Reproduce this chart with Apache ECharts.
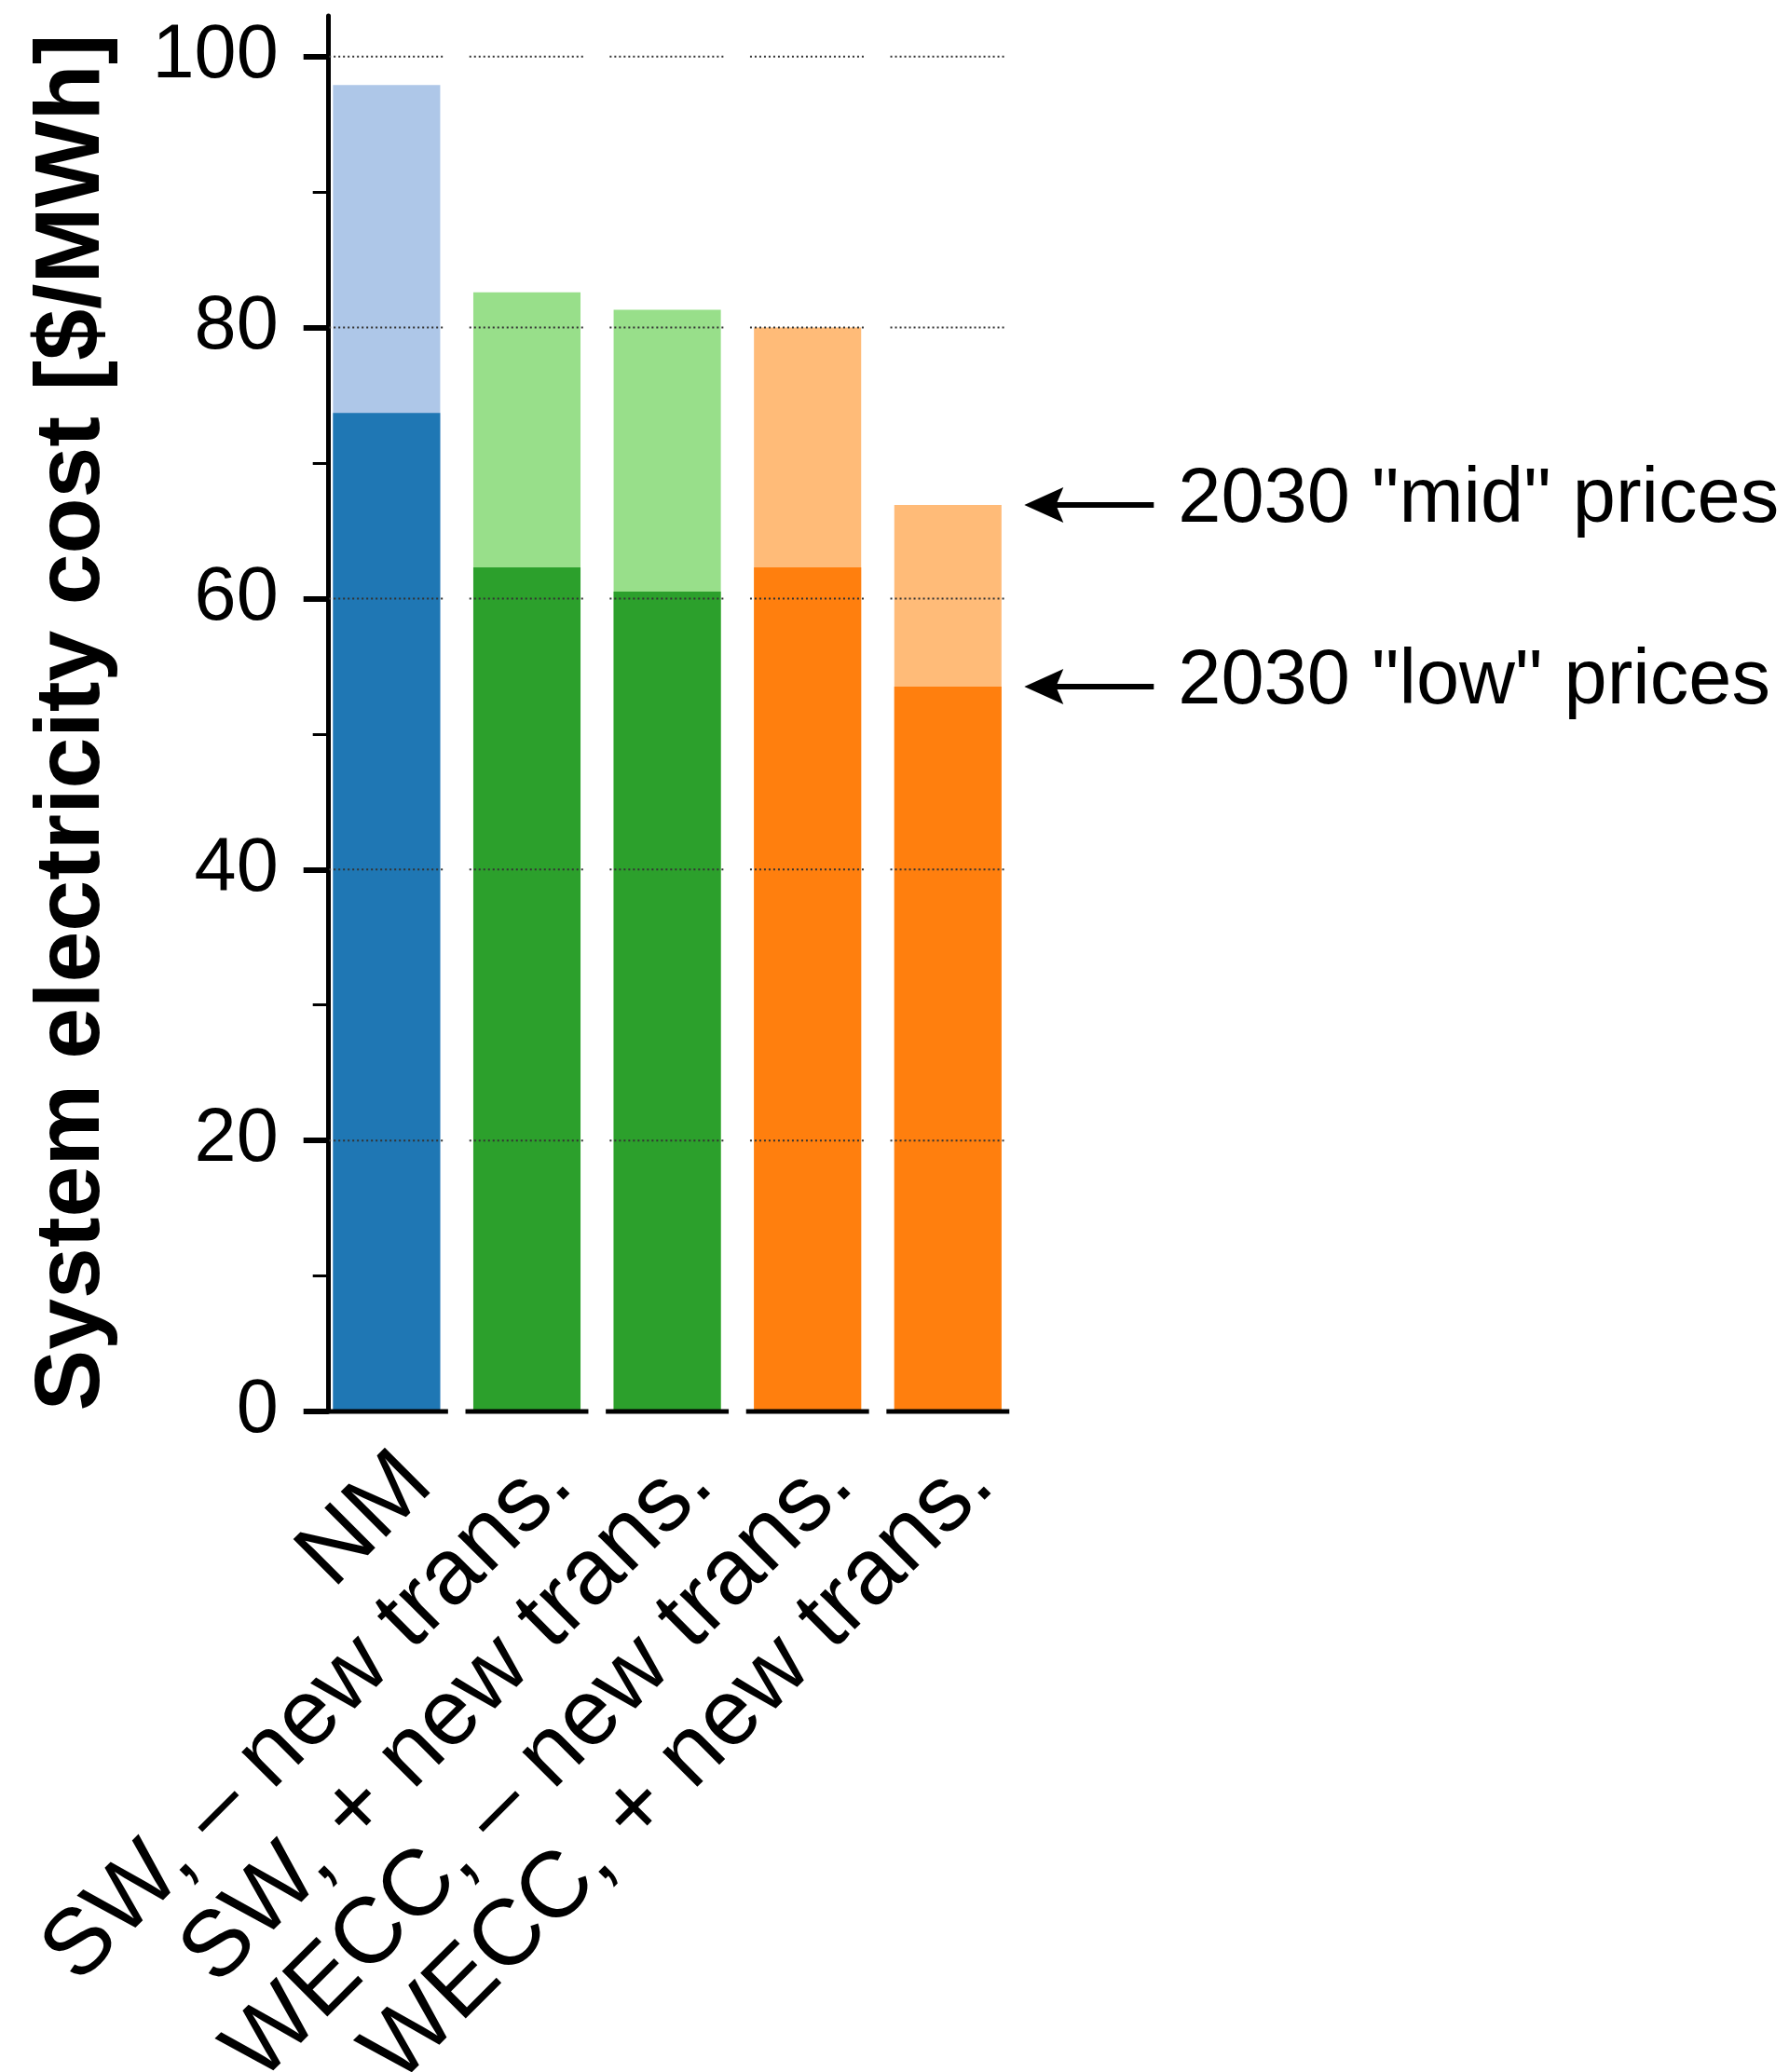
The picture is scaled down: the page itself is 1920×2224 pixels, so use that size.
<!DOCTYPE html>
<html><head><meta charset="utf-8">
<script src="https://cdn.jsdelivr.net/npm/echarts@6/dist/echarts.min.js"></script>
<style>html,body{margin:0;padding:0;background:#fff}#chart{width:1920px;height:2224px}</style>
</head><body><div id="chart"></div>
<script>
// ---- data ----
const categories = ['NM', 'SW, \u2013 new trans.', 'SW, + new trans.', 'WECC, \u2013 new trans.', 'WECC, + new trans.'];
const lowPrices = [73.7, 62.3, 60.5, 62.3, 53.5];   // 2030 "low" prices
const midPrices = [97.9, 82.6, 81.3, 80.0, 66.9];   // 2030 "mid" prices
const yTicks = [0, 20, 40, 60, 80, 100];
const yMinorTicks = [10, 30, 50, 70, 90];
const gridLevels = [20, 40, 60, 80, 100];
const annotations = ['2030 "mid" prices', '2030 "low" prices'];
const annotatedIndex = 4;
const yTitle = 'System electricity cost [$/MWh]';

// ---- styles ----
const lightColors = ['#aec7e8', '#98df8a', '#98df8a', '#ffbb78', '#ffbb78'];
const darkColors = ['#1f77b4', '#2ca02c', '#2ca02c', '#ff7f0e', '#ff7f0e'];
const FONT = '"Liberation Sans", Arial, Helvetica, sans-serif';

const gridData = [];
categories.forEach((c, i) => gridLevels.forEach(v => gridData.push([i, v])));
const baseData = categories.map((c, i) => [i, 0]);
const annotData = [
  [annotatedIndex, midPrices[annotatedIndex]],
  [annotatedIndex, lowPrices[annotatedIndex]]
];

const chart = echarts.init(document.getElementById('chart'), null, {renderer: 'canvas'});
const G = {left: 339.6, top: 17, width: 753, height: 1498};
const option = {
  backgroundColor: '#ffffff',
  animation: false,
  textStyle: {fontFamily: FONT},
  grid: [
    {left: G.left, top: G.top, width: G.width, height: G.height, outerBoundsMode: 'none', containLabel: false},
    {left: G.left + 33, top: G.top, width: G.width, height: G.height, outerBoundsMode: 'none', containLabel: false}
  ],
  xAxis: [
    {type: 'category', gridIndex: 0, data: categories, axisLine: {show: false}, axisTick: {show: false}, axisLabel: {show: false}, splitLine: {show: false}},
    {type: 'category', gridIndex: 1, data: categories, axisLine: {show: false}, axisTick: {show: false}, splitLine: {show: false},
      axisLabel: {show: true, interval: 0, rotate: 45, margin: 62, fontSize: 100, color: '#000', fontFamily: FONT}}
  ],
  yAxis: [
    {type: 'value', gridIndex: 0, position: 'left', min: 0, max: 103, interval: 20, offset: -13.1,
      name: yTitle, nameLocation: 'middle', nameGap: 224,
      nameTextStyle: {fontSize: 98.5, fontWeight: 'bold', color: '#000', fontFamily: FONT, padding: [0, 19, 0, 0]},
      axisLine: {show: true, lineStyle: {color: '#000', width: 5}},
      axisTick: {show: true, length: 27, lineStyle: {color: '#000', width: 6}, customValues: yTicks},
      axisLabel: {show: true, fontSize: 81, margin: 54, color: '#000', fontFamily: FONT, customValues: yTicks},
      splitLine: {show: false}},
    {type: 'value', gridIndex: 0, position: 'left', min: 0, max: 103, interval: 10, offset: -13.1,
      axisLine: {show: false},
      axisTick: {show: true, length: 17, lineStyle: {color: '#000', width: 3}, customValues: yMinorTicks},
      axisLabel: {show: false}, splitLine: {show: false}},
    {type: 'value', gridIndex: 1, show: false, min: 0, max: 103}
  ],
  series: [
    {name: '2030 "mid" prices', type: 'bar', xAxisIndex: 0, yAxisIndex: 0, barWidth: '76.4%', barGap: '-100%', z: 2,
      data: midPrices.map((v, i) => ({value: v, itemStyle: {color: lightColors[i]}}))},
    {name: '2030 "low" prices', type: 'bar', xAxisIndex: 0, yAxisIndex: 0, barWidth: '76.4%', barGap: '-100%', z: 3,
      data: lowPrices.map((v, i) => ({value: v, itemStyle: {color: darkColors[i]}}))},
    {type: 'custom', xAxisIndex: 0, yAxisIndex: 0, z: 5, silent: true, data: gridData,
      renderItem(params, api) {
        const p = api.coord([api.value(0), api.value(1)]);
        const half = api.size([1, 0])[0] * 0.41;
        return {type: 'line', shape: {x1: p[0] - half, y1: p[1], x2: p[0] + half, y2: p[1]},
          style: {stroke: '#333', lineWidth: 2, lineDash: [2, 3]}};
      }},
    {type: 'custom', xAxisIndex: 0, yAxisIndex: 0, z: 6, silent: true, data: baseData,
      renderItem(params, api) {
        const p = api.coord([api.value(0), api.value(1)]);
        const half = api.size([1, 0])[0] * 0.438;
        return {type: 'line', shape: {x1: p[0] - half, y1: p[1], x2: p[0] + half, y2: p[1]},
          style: {stroke: '#000', lineWidth: 5}};
      }},
    {type: 'custom', xAxisIndex: 0, yAxisIndex: 0, z: 7, silent: true, clip: false, data: annotData,
      renderItem(params, api) {
        const p = api.coord([api.value(0), api.value(1)]);
        const tip = p[0] + 82, y = p[1];
        return {type: 'group', children: [
          {type: 'line', shape: {x1: tip + 30, y1: y, x2: tip + 139, y2: y}, style: {stroke: '#000', lineWidth: 6}},
          {type: 'polygon', shape: {points: [[tip, y], [tip + 42, y - 19], [tip + 34, y], [tip + 42, y + 19]]}, style: {fill: '#000'}},
          {type: 'text', style: {text: annotations[params.dataIndex], x: tip + 165, y: y - 5,
            fontSize: 83, fontFamily: FONT, fill: '#000', align: 'left', verticalAlign: 'middle'}}
        ]};
      }}
  ]
};
chart.setOption(option);
</script></body></html>
